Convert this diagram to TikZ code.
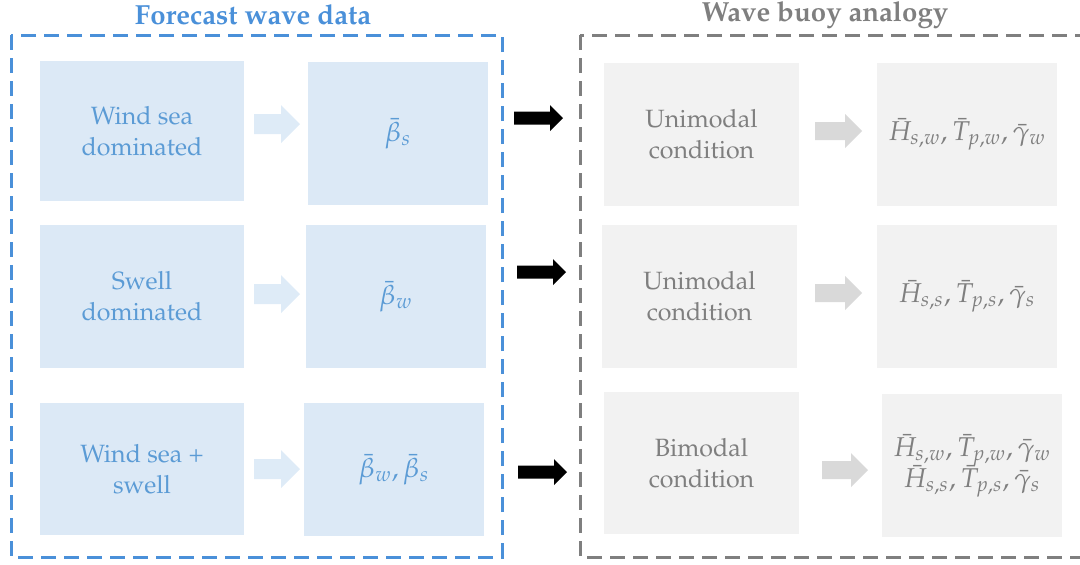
\documentclass[tikz,border=0pt]{standalone}
\usepackage[T1]{fontenc}
\usepackage{mathpazo}
\definecolor{blueline}{RGB}{74,144,217}
\definecolor{bluetext}{RGB}{91,155,213}
\definecolor{bluefill}{RGB}{220,233,246}
\definecolor{bluearrow}{RGB}{222,235,247}
\definecolor{graytext}{RGB}{127,127,127}
\definecolor{grayline}{RGB}{127,127,127}
\definecolor{grayfill}{RGB}{242,242,242}
\definecolor{grayarrow}{RGB}{217,217,217}
\newcommand\wavarrow[6]{%
  \fill[#1] ({#2},{#3-#5}) -- ({#2+#4-#6},{#3-#5}) -- ({#2+#4-#6},{#3-#6})
    -- ({#2+#4},{#3}) -- ({#2+#4-#6},{#3+#6}) -- ({#2+#4-#6},{#3+#5})
    -- ({#2},{#3+#5}) -- cycle;}
\tikzset{
  box/.style={draw=none, inner sep=0pt, align=center, font=\fontsize{12.5}{15.5}\selectfont},
  bluebox/.style={box, fill=bluefill, text=bluetext},
  graybox/.style={box, fill=grayfill, text=graytext},
  mathbox/.style={font=\fontsize{13.6}{16}\selectfont},
  frame/.style={line width=1.5pt, dash pattern=on 7.5pt off 4pt},
  titletext/.style={font=\bfseries\fontsize{13.8}{16}\selectfont, inner sep=0pt}
}
\begin{document}
\begin{tikzpicture}[x=0.5pt,y=-0.5pt]
\useasboundingbox (0,0) rectangle (1080,564);
\clip (0,0) rectangle (1080,564);
% frames
\draw[frame, draw=blueline] (11,35) rectangle (502,557);
\draw[frame, draw=grayline] (580,35) rectangle (1095,557);
\node[titletext, text=blueline] (t1) at (253,15) {Forecast wave data};
\node[titletext, text=graytext] (t2) at (825,15) {Wave buoy analogy};
% left column
\node[bluebox, minimum width=102pt, minimum height=70pt] (a1) at (142,131) {Wind sea\\dominated};
\node[bluebox, mathbox, minimum width=90pt, minimum height=71.5pt] (a2) at (398,133.5) {$\bar{\beta}_s$};
\node[bluebox, minimum width=102pt, minimum height=71.5pt] (b1) at (142,296.5) {Swell\\dominated};
\node[bluebox, mathbox, minimum width=90pt, minimum height=71.5pt] (b2) at (396,296.5) {$\bar{\beta}_w$};
\node[bluebox, minimum width=102pt, minimum height=66pt] (c1) at (142,469) {Wind sea +\\swell};
\node[bluebox, mathbox, minimum width=90pt, minimum height=66.5pt] (c2) at (394,469.5) {$\bar{\beta}_w, \bar{\beta}_s$};
% right column
\node[graybox, minimum width=97.5pt, minimum height=71.5pt] (d1) at (701.5,134.5) {Unimodal\\condition};
\node[graybox, mathbox, minimum width=90pt, minimum height=71.5pt] (d2) at (967,134.5) {$\bar{H}_{s,w}, \bar{T}_{p,w}, \bar{\gamma}_w$};
\node[graybox, minimum width=97.5pt, minimum height=71.5pt] (e1) at (699.5,296.5) {Unimodal\\condition};
\node[graybox, mathbox, minimum width=90pt, minimum height=71.5pt] (e2) at (967,296.5) {$\bar{H}_{s,s}, \bar{T}_{p,s}, \bar{\gamma}_s$};
\node[graybox, minimum width=97.5pt, minimum height=71pt] (f1) at (701.5,463) {Bimodal\\condition};
\node[graybox, mathbox, minimum width=90pt, minimum height=71.5pt] (f2) at (972,465.5) {$\bar{H}_{s,w}, \bar{T}_{p,w}, \bar{\gamma}_w$\\[-0.5pt]$\bar{H}_{s,s}, \bar{T}_{p,s}, \bar{\gamma}_s$};
% block arrows
\wavarrow{bluearrow}{254}{124}{46}{10}{19}
\wavarrow{bluearrow}{254}{294}{46}{10}{19}
\wavarrow{bluearrow}{254}{469}{46}{10}{19}
\wavarrow{black}{514}{118}{49}{6.5}{13}
\wavarrow{black}{517}{272}{49}{6.5}{13}
\wavarrow{black}{518}{472}{49}{6.5}{13}
\wavarrow{grayarrow}{815}{131}{47}{9}{17}
\wavarrow{grayarrow}{815}{293}{47}{9}{17}
\wavarrow{grayarrow}{822}{470}{46}{9}{17}
\end{tikzpicture}
\end{document}
